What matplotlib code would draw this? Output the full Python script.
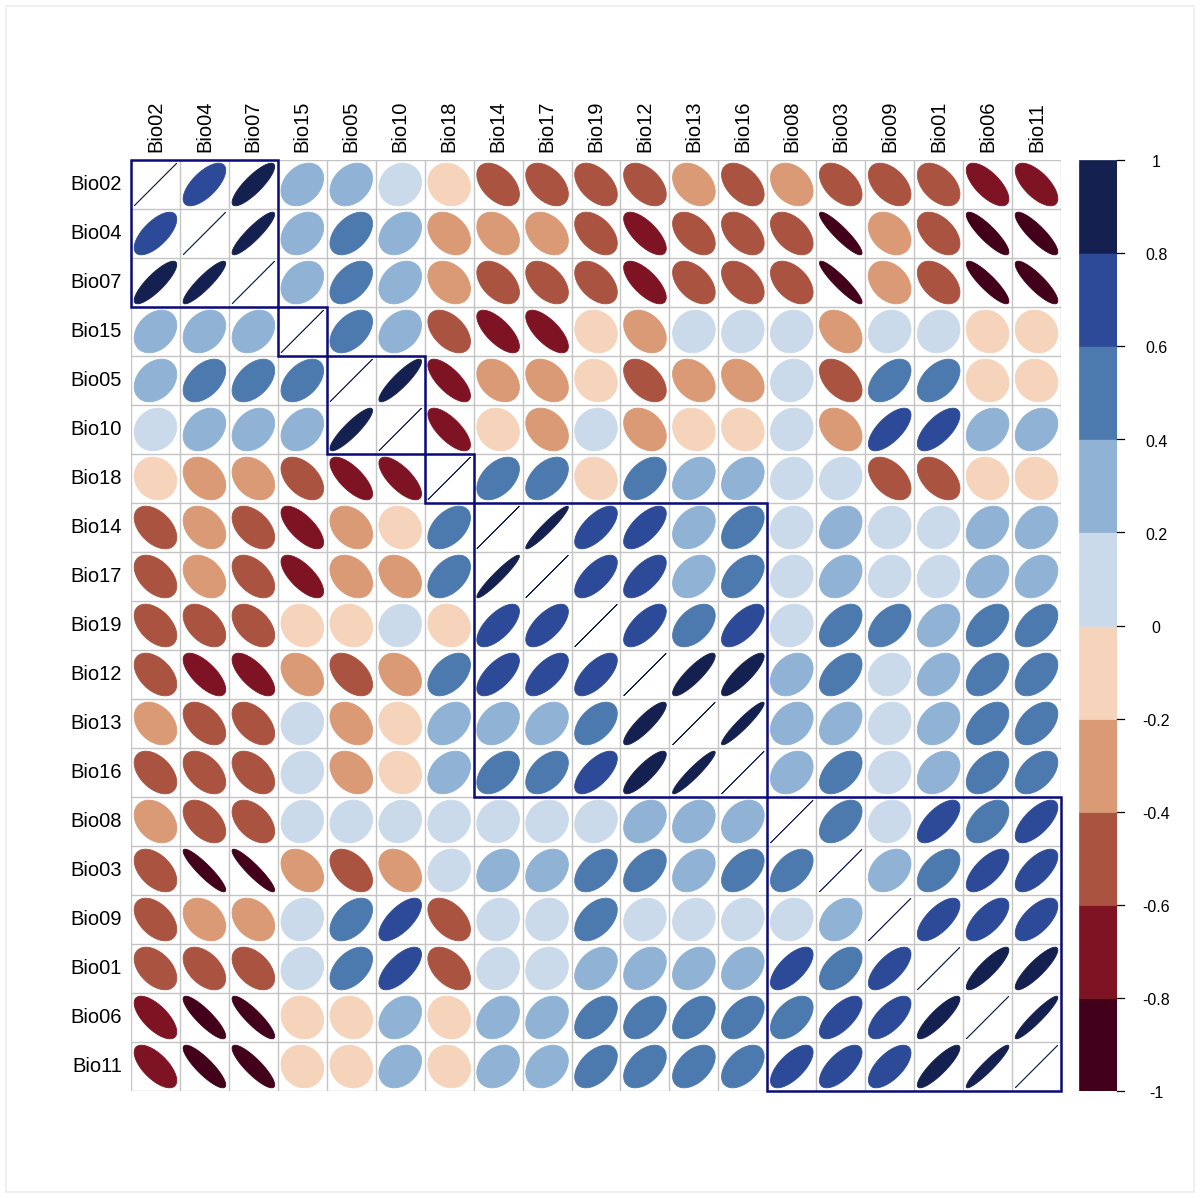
import numpy as np
import matplotlib.pyplot as plt
from matplotlib.patches import Polygon, Rectangle
from matplotlib.colors import ListedColormap, BoundaryNorm

plt.rcParams['font.family'] = ['Liberation Sans', 'DejaVu Sans']

# variable order after hierarchical clustering
labels = ['Bio02', 'Bio04', 'Bio07', 'Bio15', 'Bio05', 'Bio10', 'Bio18',
          'Bio14', 'Bio17', 'Bio19', 'Bio12', 'Bio13', 'Bio16', 'Bio08',
          'Bio03', 'Bio09', 'Bio01', 'Bio06', 'Bio11']

# upper triangle of the correlation matrix, each row starts at the diagonal
upper = [
    [1, 0.67, 0.84, 0.30, 0.29, 0.12, -0.12, -0.46, -0.45, -0.47, -0.46, -0.33, -0.46, -0.31, -0.47, -0.46, -0.45, -0.68, -0.66],
    [1, 0.90, 0.28, 0.46, 0.30, -0.32, -0.33, -0.34, -0.46, -0.70, -0.47, -0.46, -0.47, -0.91, -0.32, -0.47, -0.87, -0.86],
    [1, 0.29, 0.47, 0.30, -0.31, -0.46, -0.47, -0.46, -0.70, -0.47, -0.46, -0.46, -0.92, -0.32, -0.46, -0.88, -0.86],
    [1, 0.47, 0.30, -0.47, -0.70, -0.70, -0.12, -0.33, 0.08, 0.09, 0.09, -0.34, 0.10, 0.10, -0.11, -0.10],
    [1, 0.89, -0.72, -0.32, -0.33, -0.11, -0.47, -0.32, -0.31, 0.10, -0.47, 0.47, 0.46, -0.10, -0.10],
    [1, -0.72, -0.12, -0.31, 0.08, -0.32, -0.13, -0.12, 0.10, -0.34, 0.68, 0.67, 0.28, 0.28],
    [1, 0.46, 0.46, -0.12, 0.46, 0.32, 0.30, 0.10, 0.12, -0.47, -0.47, -0.12, -0.10],
    [1, 0.95, 0.67, 0.66, 0.32, 0.47, 0.10, 0.28, 0.10, 0.10, 0.28, 0.28],
    [1, 0.66, 0.65, 0.32, 0.46, 0.10, 0.29, 0.10, 0.10, 0.28, 0.28],
    [1, 0.67, 0.47, 0.66, 0.12, 0.48, 0.46, 0.35, 0.47, 0.48],
    [1, 0.87, 0.85, 0.29, 0.48, 0.12, 0.32, 0.46, 0.46],
    [1, 0.94, 0.28, 0.35, 0.12, 0.30, 0.46, 0.46],
    [1, 0.29, 0.47, 0.12, 0.32, 0.46, 0.48],
    [1, 0.48, 0.12, 0.66, 0.48, 0.67],
    [1, 0.32, 0.50, 0.67, 0.66],
    [1, 0.68, 0.66, 0.64],
    [1, 0.87, 0.87],
    [1, 0.94],
    [1],
]

# cluster sizes for the rectangles
clusters = [3, 1, 2, 1, 6, 6]

palette = ['#42001a', '#7e1423', '#a95340', '#d99a75', '#f5d4bb',
           '#cbdaea', '#90b2d5', '#4c79ae', '#2c4a97', '#14204f']
legend_ticks = [-1, -0.8, -0.6, -0.4, -0.2, 0, 0.2, 0.4, 0.6, 0.8, 1]

n = len(labels)
corr = np.eye(n)
for i, row in enumerate(upper):
    for k, v in enumerate(row):
        corr[i, i + k] = v
        corr[i + k, i] = v

cmap = ListedColormap(palette)
norm = BoundaryNorm(legend_ticks, cmap.N)

W, H = 1200, 1198
fig = plt.figure(figsize=(W / 100, H / 100), dpi=100)

# faint outer frame
fig.patches.append(Rectangle((6 / W, 6 / H), 1188 / W, 1186 / H, transform=fig.transFigure,
                             fill=False, edgecolor='#ececec', lw=1.2))

ax = fig.add_axes([131 / W, 1 - 1091 / H, 930 / W, 931 / H])
ax.set_xlim(0, n)
ax.set_ylim(n, 0)
ax.axis('off')

t = np.linspace(0, 2 * np.pi, 99)
for i in range(n):
    for j in range(n):
        r = corr[i, j]
        a = np.arccos(np.clip(r, -1, 1)) / 2
        ex = j + 0.5 + 0.435 * np.cos(t + a)
        ey = i + 0.5 - 0.435 * np.cos(t - a)
        col = cmap(norm(min(r, 0.999)))
        ax.add_patch(Polygon(np.column_stack([ex, ey]), closed=True,
                             facecolor=col, edgecolor=col, lw=0.6, zorder=2))

# cell grid
for k in range(n + 1):
    ax.plot([k, k], [0, n], color='#c4c4c4', lw=1.0, zorder=1)
    ax.plot([0, n], [k, k], color='#c4c4c4', lw=1.0, zorder=1)

# cluster rectangles
start = 0
for size in clusters:
    ax.add_patch(Rectangle((start, start), size, size, fill=False,
                           edgecolor='#0b0b7a', lw=1.8, zorder=3, clip_on=False))
    start += size

for k, lab in enumerate(labels):
    ax.text(-0.18, k + 0.5, lab, ha='right', va='center', fontsize=14.5)
    ax.text(k + 0.5, -0.16, lab, ha='center', va='bottom', rotation=90, fontsize=14.5)

# colour legend
cax = fig.add_axes([1079 / W, 1 - 1091 / H, 38 / W, 931 / H])
cax.set_xlim(0, 1)
cax.set_ylim(-1, 1)
cax.axis('off')
for b in range(len(palette)):
    cax.add_patch(Rectangle((0, legend_ticks[b]), 1, 0.2, facecolor=palette[b],
                            edgecolor=palette[b], lw=0.5))
for v in legend_ticks:
    cax.plot([1, 1.18], [v, v], color='black', lw=0.9, clip_on=False)
    cax.text(2.03, v - 0.006, f'{v:g}', ha='center', va='center', fontsize=11.5)

fig.savefig('out.png', dpi=100)
